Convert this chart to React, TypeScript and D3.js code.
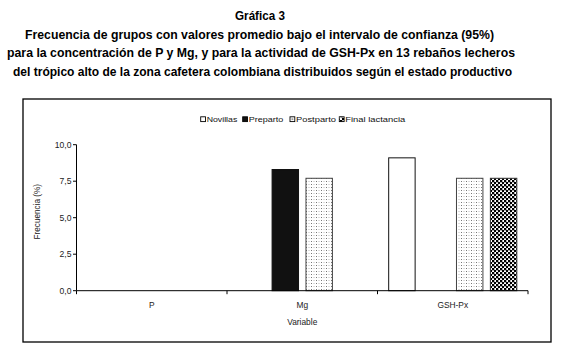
import React from "react";
import * as d3 from "d3";

const titleLines = [
  "Gráfica 3",
  "Frecuencia de grupos con valores promedio bajo el intervalo de confianza (95%)",
  "para la concentración de P y Mg, y para la actividad de GSH-Px en 13 rebaños lecheros",
  "del trópico alto de la zona cafetera colombiana distribuidos según el estado productivo",
];
const categories = ["P", "Mg", "GSH-Px"];
const series = ["Novillas", "Preparto", "Postparto", "Final lactancia"];
// values[seriesIndex][categoryIndex]; null = no bar
const novillas = [null, null, 9.1];
const preparto = [null, 8.3, null];
const postparto = [null, 7.7, 7.7];
const finalLactancia = [null, null, 7.7];
const values = [novillas, preparto, postparto, finalLactancia];
const yTicks = [0, 2.5, 5, 7.5, 10];

const W = 572;
const H = 349;

export default function App() {
  const x = d3.scaleBand<string>().domain(categories).range([76.5, 528]).paddingInner(0).paddingOuter(0);
  const x1 = d3
    .scaleBand<string>()
    .domain(series)
    .range([0, x.bandwidth()])
    .paddingInner(0.22)
    .paddingOuter(0.33);
  const y = d3.scaleLinear().domain([0, 10]).range([290.7, 144.7]);
  const fmt = (v: number) => d3.format(".1f")(v).replace(".", ",");

  const fills = ["#ffffff", "#111111", "url(#dots)", "url(#checker)"];
  const strokes = ["#111", "#111", "#444", "#333"];

  const titleGeo = [
    { x0: 235, x1: 285, y: 19.5 },
    { x0: 25, x1: 494, y: 38.5 },
    { x0: 7, x1: 515, y: 57 },
    { x0: 13, x1: 512, y: 76 },
  ];

  const legendGeo = [
    { bx: 200.7, tx: 206.7, tw: 30.6 },
    { bx: 242.7, tx: 248.7, tw: 34.6 },
    { bx: 290, tx: 296, tw: 40 },
    { bx: 339.3, tx: 345.3, tw: 60 },
  ];

  const bars: { c: string; s: string; v: number; i: number }[] = [];
  series.forEach((s, i) => {
    categories.forEach((c, j) => {
      const v = values[i][j];
      if (v != null) bars.push({ c, s, v, i });
    });
  });

  const boundaries = [x.range()[0], ...categories.map((c) => (x(c) as number) + x.bandwidth())];

  return (
    <svg
      width={W}
      height={H}
      style={{ position: "absolute", left: 0, top: 0, background: "#fff" }}
      fontFamily="'Liberation Sans', Arial, sans-serif"
    >
      <defs>
        <pattern id="dots" width="5" height="3" patternUnits="userSpaceOnUse">
          <rect width="5" height="3" fill="#fff" />
          <rect x="1" y="1" width="1" height="1" fill="#777" />
          <rect x="3.5" y="1" width="1" height="1" fill="#bbb" />
        </pattern>
        <pattern id="checker" width="4" height="4" patternUnits="userSpaceOnUse">
          <rect width="4" height="4" fill="#fff" />
          <rect x="0" y="0" width="2.3" height="2.3" fill="#000" />
          <rect x="2" y="2" width="2.3" height="2.3" fill="#000" />
        </pattern>
      </defs>

      {titleLines.map((t, i) => (
        <text
          key={i}
          x={titleGeo[i].x0}
          y={titleGeo[i].y}
          fontFamily="'Liberation Sans Narrow', 'Arial Narrow', 'Liberation Sans', sans-serif"
          fontWeight="bold"
          fontSize={13.5}
          textLength={titleGeo[i].x1 - titleGeo[i].x0}
          lengthAdjust="spacingAndGlyphs"
          fill="#000"
        >
          {t}
        </text>
      ))}

      <rect x={23} y={99} width={528} height={243} fill="none" stroke="#000" strokeWidth={1.3} />

      {/* legend */}
      {series.map((s, i) => (
        <g key={s}>
          <rect
            x={legendGeo[i].bx}
            y={116.8}
            width={4.8}
            height={4.8}
            fill={i === 2 ? "#fff" : fills[i]}
            stroke="#000"
            strokeWidth={0.9}
          />
          {i === 2 && <rect x={legendGeo[i].bx + 1.5} y={118.3} width={1.8} height={1.8} fill="#999" />}
          {i === 3 && <rect x={legendGeo[i].bx + 0.5} y={117.3} width={2} height={2} fill="#fff" />}
          <text
            x={legendGeo[i].tx}
            y={121.8}
            fontSize={7.5}
            fill="#111"
            textLength={legendGeo[i].tw}
            lengthAdjust="spacingAndGlyphs"
          >
            {s}
          </text>
        </g>
      ))}

      {/* bars */}
      {bars.map((b) => (
        <rect
          key={b.s + b.c}
          x={(x(b.c) as number) + (x1(b.s) as number)}
          y={y(b.v)}
          width={x1.bandwidth()}
          height={y(0) - y(b.v)}
          fill={fills[b.i]}
          stroke={strokes[b.i]}
          strokeWidth={1}
        />
      ))}

      {/* y axis */}
      <line x1={x.range()[0]} x2={x.range()[0]} y1={y(10)} y2={y(0)} stroke="#000" strokeWidth={1} />
      {yTicks.map((t) => (
        <g key={t}>
          <line x1={x.range()[0] - 3.5} x2={x.range()[0]} y1={y(t)} y2={y(t)} stroke="#000" strokeWidth={1} />
          <text x={71.5} y={y(t) + 3} fontSize={8.6} textAnchor="end" fill="#222">
            {fmt(t)}
          </text>
        </g>
      ))}
      <text
        transform={`translate(39.5,${(y(0) + y(10)) / 2 - 6}) rotate(-90)`}
        fontSize={8.2}
        textAnchor="middle"
        fill="#222"
      >
        Frecuencia (%)
      </text>

      {/* x axis */}
      <line x1={x.range()[0]} x2={x.range()[1]} y1={y(0)} y2={y(0)} stroke="#000" strokeWidth={1} />
      {boundaries.map((b, i) => (
        <line key={i} x1={b} x2={b} y1={y(0)} y2={y(0) + 3.5} stroke="#000" strokeWidth={1} />
      ))}
      {categories.map((c) => (
        <text key={c} x={(x(c) as number) + x.bandwidth() / 2} y={307.7} fontSize={8.4} textAnchor="middle" fill="#222">
          {c}
        </text>
      ))}
      <text x={(x.range()[0] + x.range()[1]) / 2} y={325} fontSize={8.4} textAnchor="middle" fill="#222">
        Variable
      </text>
    </svg>
  );
}
